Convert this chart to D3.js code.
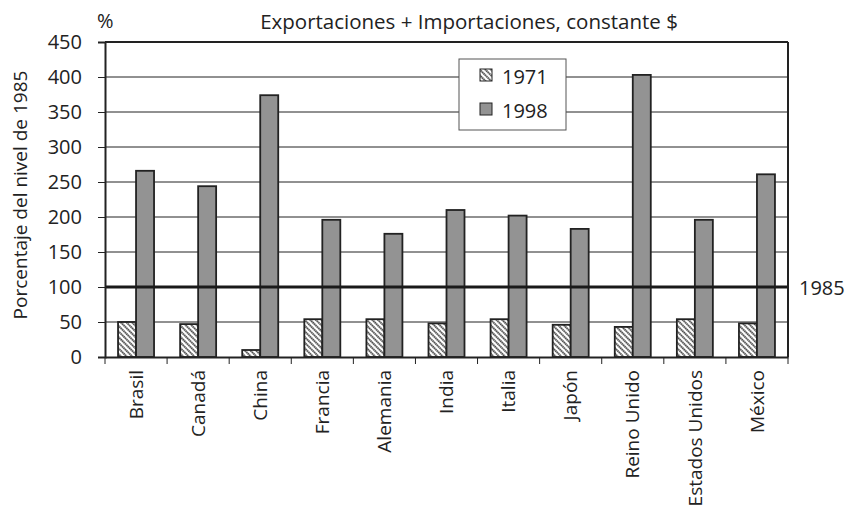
<!DOCTYPE html>
<html>
<head>
<meta charset="utf-8">
<script src="https://cdn.jsdelivr.net/npm/d3@7"></script>
<style>
  html, body { margin: 0; padding: 0; background: #fff; }
  svg { display: block; font-family: "Open Sans", "Noto Sans", sans-serif; }
</style>
</head>
<body>
<svg id="chart" width="850" height="509"></svg>
<script>
// Trade (exports + imports, constant $) as a percentage of the 1985 level
const categories = ["Brasil", "Canadá", "China", "Francia", "Alemania", "India",
                    "Italia", "Japón", "Reino Unido", "Estados Unidos", "México"];
const values1971 = [50, 47, 10, 54, 54, 48, 54, 46, 43, 54, 48];
const values1998 = [266, 244, 374, 196, 176, 210, 202, 183, 403, 196, 261];
const seriesNames = ["1971", "1998"];
const yTicks = [0, 50, 100, 150, 200, 250, 300, 350, 400, 450];
const referenceLevel = 100;

const svg = d3.select("#chart");
const margin = { left: 105, right: 62, top: 42, bottom: 152 };
const W = 850, H = 509;
const x0 = margin.left, x1 = W - margin.right;
const y0 = H - margin.bottom, y1 = margin.top;
const ink = "#222";

const x = d3.scaleBand().domain(categories).range([x0, x1]).paddingInner(0).paddingOuter(0);
const y = d3.scaleLinear().domain([0, 450]).range([y0, y1]);
const barW = 18;
const xs = d3.scaleBand().domain(seriesNames).range([0, barW * 2]);

// dotted diagonal hatch for the 1971 bars
const defs = svg.append("defs");
const pat = defs.append("pattern")
  .attr("id", "hatch")
  .attr("patternUnits", "userSpaceOnUse")
  .attr("width", 4).attr("height", 4)
  .attr("patternTransform", "rotate(45)");
pat.append("rect").attr("width", 4).attr("height", 4).attr("fill", "#fff");
pat.append("line")
  .attr("x1", 0).attr("y1", 2).attr("x2", 4).attr("y2", 2)
  .attr("stroke", "#111").attr("stroke-width", 1.6)
  .attr("stroke-dasharray", "1.5 0.5");

// gridlines
svg.append("g").selectAll("line")
  .data(yTicks.filter(d => d > 0 && d !== referenceLevel))
  .join("line")
  .attr("x1", x0).attr("x2", x1)
  .attr("y1", d => y(d)).attr("y2", d => y(d))
  .attr("stroke", ink).attr("stroke-width", 1);

// legend box
const lg = svg.append("g");
lg.append("rect")
  .attr("x", 459).attr("y", 59).attr("width", 107).attr("height", 71)
  .attr("fill", "#fff").attr("stroke", "#555").attr("stroke-width", 1);
const legendItems = [
  { name: seriesNames[0], fill: "url(#hatch)", yy: 69 },
  { name: seriesNames[1], fill: "#939393", yy: 103 }
];
legendItems.forEach(it => {
  lg.append("rect")
    .attr("x", 480).attr("y", it.yy).attr("width", 12).attr("height", 12)
    .attr("fill", it.fill).attr("stroke", ink).attr("stroke-width", 1);
  lg.append("text")
    .attr("x", 502).attr("y", it.yy + 15)
    .attr("font-size", 20).attr("fill", ink)
    .text(it.name);
});

// bars
const groups = svg.append("g").selectAll("g")
  .data(categories.map((c, i) => ({ c, v: [values1971[i], values1998[i]] })))
  .join("g")
  .attr("transform", d => `translate(${x(d.c) + x.bandwidth() / 2 - barW},0)`);
groups.selectAll("rect")
  .data(d => d.v.map((v, j) => ({ s: seriesNames[j], v })))
  .join("rect")
  .attr("x", d => xs(d.s))
  .attr("y", d => y(d.v))
  .attr("width", xs.bandwidth())
  .attr("height", d => y(0) - y(d.v))
  .attr("fill", d => d.s === "1971" ? "url(#hatch)" : "#939393")
  .attr("stroke", ink).attr("stroke-width", 1.8);

// 1985 reference line
svg.append("line")
  .attr("x1", x0).attr("x2", x1)
  .attr("y1", y(referenceLevel)).attr("y2", y(referenceLevel))
  .attr("stroke", "#1a1a1a").attr("stroke-width", 3);
svg.append("text")
  .attr("x", 799).attr("y", y(referenceLevel) + 8)
  .attr("font-size", 20).attr("fill", ink)
  .text("1985");

// frame: top and right border
svg.append("line").attr("x1", x0).attr("x2", x1).attr("y1", y1).attr("y2", y1)
  .attr("stroke", ink).attr("stroke-width", 2);
svg.append("line").attr("x1", x1).attr("x2", x1).attr("y1", y1).attr("y2", y0)
  .attr("stroke", ink).attr("stroke-width", 2);

// y axis
const yAxis = svg.append("g")
  .attr("transform", `translate(${x0},0)`)
  .call(d3.axisLeft(y).tickValues(yTicks).tickSize(7).tickPadding(16));
yAxis.select(".domain").attr("stroke", ink).attr("stroke-width", 2);
yAxis.selectAll(".tick line").attr("stroke", ink).attr("stroke-width", 1);
yAxis.selectAll(".tick text")
  .attr("font-size", 20).attr("fill", ink)
  .attr("font-family", "'Open Sans', sans-serif");

// x axis
const xAxis = svg.append("g")
  .attr("transform", `translate(0,${y0})`)
  .call(d3.axisBottom(x).tickSize(0).tickSizeOuter(0));
xAxis.select(".domain").attr("stroke", ink).attr("stroke-width", 2);
xAxis.selectAll(".tick text")
  .attr("font-size", 19).attr("fill", ink)
  .attr("font-family", "'Open Sans', sans-serif")
  .attr("text-anchor", "end")
  .attr("transform", "translate(0,13) rotate(-90)")
  .attr("dx", 0).attr("dy", "0.35em").attr("y", 0);
// category boundary ticks
svg.append("g").selectAll("line")
  .data(d3.range(categories.length + 1))
  .join("line")
  .attr("x1", i => x0 + i * x.step()).attr("x2", i => x0 + i * x.step())
  .attr("y1", y0).attr("y2", y0 + 7)
  .attr("stroke", ink).attr("stroke-width", 1);

// titles
svg.append("text")
  .attr("x", 469).attr("y", 29)
  .attr("text-anchor", "middle")
  .attr("font-size", 20.5).attr("fill", ink)
  .text("Exportaciones + Importaciones, constante $");
svg.append("text")
  .attr("x", 97).attr("y", 28)
  .attr("font-size", 20).attr("fill", ink)
  .text("%");
svg.append("text")
  .attr("transform", `translate(27,195) rotate(-90)`)
  .attr("text-anchor", "middle")
  .attr("font-size", 19).attr("fill", ink)
  .text("Porcentaje del nivel de 1985");
</script>
</body>
</html>
